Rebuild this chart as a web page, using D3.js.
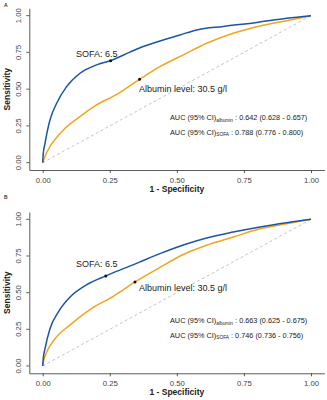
<!DOCTYPE html>
<html>
<head>
<meta charset="utf-8">
<script src="https://cdn.jsdelivr.net/npm/d3@7"></script>
<style>
  body { margin: 0; background: #fff; }
  svg { display: block; font-family: "Liberation Sans", Arial, sans-serif; }
</style>
</head>
<body>
<div id="chart"></div>
<script>
// ROC curves: [1 - specificity, sensitivity]
const sofaA = [[0,0],[0.002,0.06],[0.0086,0.132],[0.027,0.29],[0.052,0.404],[0.089,0.517],[0.139,0.608],[0.201,0.665],[0.253,0.694],[0.325,0.752],[0.363,0.782],[0.437,0.828],[0.512,0.869],[0.574,0.903],[0.673,0.927],[0.798,0.954],[0.909,0.982],[1,1]];
const albA = [[0,0],[0.01,0.05],[0.027,0.109],[0.077,0.222],[0.139,0.313],[0.195,0.386],[0.276,0.465],[0.361,0.567],[0.437,0.653],[0.524,0.733],[0.611,0.812],[0.71,0.88],[0.81,0.93],[0.909,0.966],[1,1]];
const sofaB = [[0,0],[0.002,0.05],[0.0086,0.118],[0.027,0.254],[0.058,0.368],[0.102,0.47],[0.164,0.554],[0.235,0.614],[0.313,0.672],[0.363,0.71],[0.437,0.766],[0.524,0.825],[0.611,0.873],[0.71,0.913],[0.81,0.948],[0.909,0.977],[1,1]];
const albB = [[0,0],[0.004,0.04],[0.015,0.095],[0.046,0.186],[0.102,0.28],[0.176,0.385],[0.263,0.475],[0.344,0.573],[0.437,0.672],[0.524,0.76],[0.611,0.823],[0.71,0.879],[0.81,0.936],[0.909,0.97],[1,1]];
const cutoffs = { A: { sofa: [0.253, 0.694], alb: [0.361, 0.567] }, B: { sofa: [0.235, 0.614], alb: [0.344, 0.573] } };
const aucAlb = { A: ": 0.642 (0.628 - 0.657)", B: ": 0.663 (0.625 - 0.675)" };
const aucSofa = { A: ": 0.788 (0.776 - 0.800)", B: ": 0.746 (0.736 - 0.756)" };
const ticks = [0, 0.25, 0.5, 0.75, 1];

const width = 327, height = 400;
const blue = "#1c56a2", orange = "#f2a41e";

const svg = d3.select("#chart").append("svg")
  .attr("width", width).attr("height", height);

const panels = [
  { key: "A", top: 0, sofa: sofaA, alb: albA },
  { key: "B", top: 200, sofa: sofaB, alb: albB }
];

panels.forEach(p => {
  const g = svg.append("g").attr("transform", `translate(0,${p.top})`);
  const x = d3.scaleLinear().domain([-0.05, 1.05]).range([29.3, 324.4]);
  const y = p.key === "A"
    ? d3.scaleLinear().domain([-0.05, 1.05]).range([170, 8.3])
    : d3.scaleLinear().domain([-0.05, 1.05]).range([173.3, 12]);

  g.append("text").attr("x", 4).attr("y", p.key === "A" ? 7 : -1)
    .attr("font-size", 5).attr("font-weight", "bold").attr("fill", "#333").text(p.key);

  // axes
  const xAxis = g.append("g").attr("transform", `translate(0,${y.range()[0]})`)
    .call(d3.axisBottom(x).tickValues(ticks).tickFormat(d3.format(".2f")).tickSize(3).tickSizeOuter(0));
  const yAxis = g.append("g").attr("transform", `translate(${x.range()[0]},0)`)
    .call(d3.axisLeft(y).tickValues(ticks).tickFormat(d3.format(".2f")).tickSize(3).tickSizeOuter(0));
  [xAxis, yAxis].forEach(a => {
    a.select(".domain").attr("stroke", "#333").attr("stroke-width", 0.8);
    a.selectAll(".tick line").attr("stroke", "#333").attr("stroke-width", 0.8);
    a.selectAll("text").attr("fill", "#444").attr("font-size", 7.7)
      .attr("font-family", "'Liberation Sans', Arial, sans-serif");
  });
  xAxis.selectAll("text").attr("dy", "0.9em");
  yAxis.selectAll("text")
    .attr("text-anchor", "middle").attr("dy", null)
    .attr("transform", d => `translate(-8.5,${y(d)}) rotate(-90)`)
    .attr("x", 0).attr("y", 0);
  yAxis.selectAll(".tick").attr("transform", null);
  yAxis.selectAll(".tick line").attr("transform", d => `translate(0,${y(d)})`);

  g.append("text").attr("x", (x(0) + x(1)) / 2).attr("y", y.range()[0] + 22)
    .attr("text-anchor", "middle").attr("font-size", 8.5).attr("font-weight", "bold")
    .attr("fill", "#222").text("1 - Specificity");
  g.append("text")
    .attr("transform", `translate(10,${(y(0) + y(1)) / 2}) rotate(-90)`)
    .attr("text-anchor", "middle").attr("font-size", 8.5).attr("font-weight", "bold")
    .attr("fill", "#222").text("Sensitivity");

  // reference diagonal
  g.append("line").attr("x1", x(0)).attr("y1", y(0)).attr("x2", x(1)).attr("y2", y(1))
    .attr("stroke", "#bdbdbd").attr("stroke-width", 0.9).attr("stroke-dasharray", "3,2.5");

  const line = d3.line().x(d => x(d[0])).y(d => y(d[1])).curve(d3.curveMonotoneX);
  g.append("path").datum(p.alb).attr("d", line)
    .attr("fill", "none").attr("stroke", orange).attr("stroke-width", 1.5);
  g.append("path").datum(p.sofa).attr("d", line)
    .attr("fill", "none").attr("stroke", blue).attr("stroke-width", 1.5);

  const c = cutoffs[p.key];
  [c.sofa, c.alb].forEach(pt => {
    g.append("circle").attr("cx", x(pt[0])).attr("cy", y(pt[1])).attr("r", 1.5).attr("fill", "#111");
  });

  const yo = p.key === "A" ? 0 : 3;
  g.append("text").attr("x", 76).attr("y", (p.key === "A" ? 56.5 : 67)).attr("font-size", 9)
    .attr("fill", "#222").text("SOFA: 6.5");
  g.append("text").attr("x", 139).attr("y", (p.key === "A" ? 92.3 : 91)).attr("font-size", 9)
    .attr("fill", "#222").text("Albumin level: 30.5 g/l");

  const auc = [["albumin", aucAlb[p.key]], ["SOFA", aucSofa[p.key]]];
  auc.forEach((a, i) => {
    const t = g.append("text").attr("x", 170).attr("y", 120.2 + yo + i * 14.5)
      .attr("font-size", 7.3).attr("fill", "#222");
    t.append("tspan").text("AUC (95% CI)");
    t.append("tspan").attr("font-size", 4.8).attr("dy", 1.6).text(a[0]);
    t.append("tspan").attr("dy", -1.6).text(" " + a[1]);
  });
});
</script>
</body>
</html>
